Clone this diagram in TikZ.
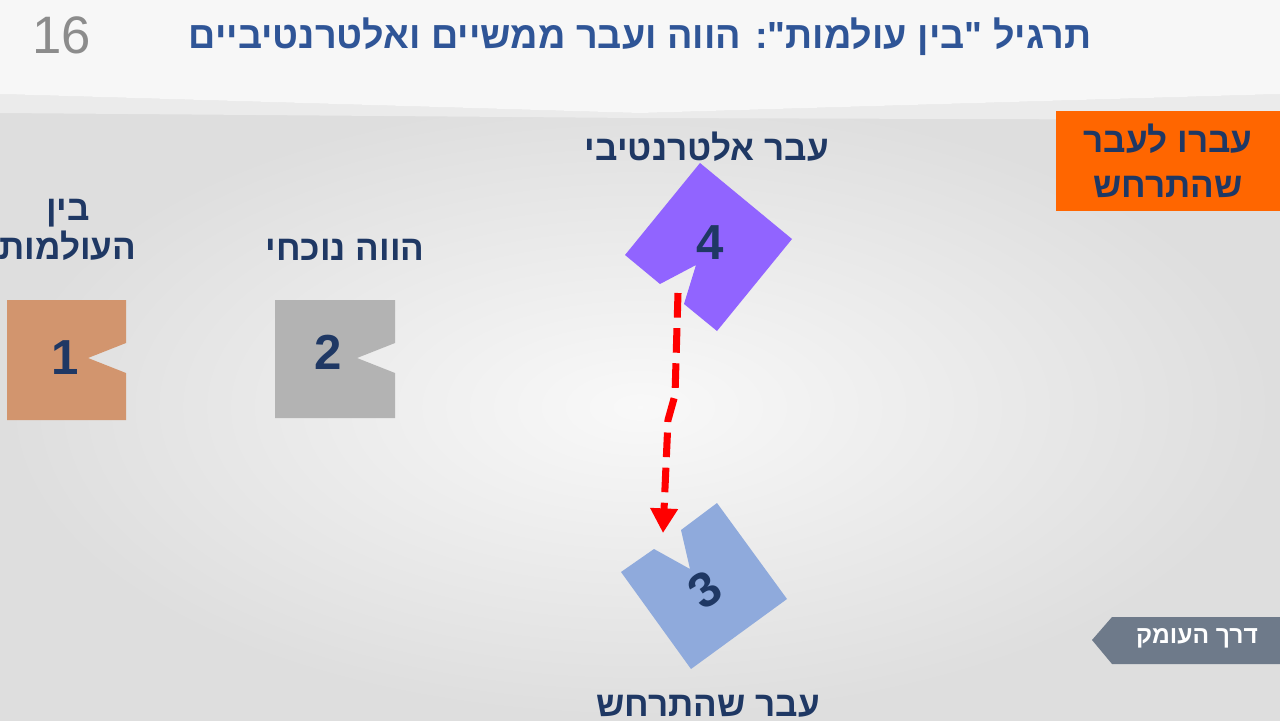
\documentclass[tikz,border=0pt]{standalone}
\usepackage{fontspec}
\setmainfont{Liberation Sans}
\newfontfamily\heb[Script=Hebrew]{Liberation Sans}
\TeXXeTstate=1
\usetikzlibrary{arrows.meta}
\newcommand{\rtl}[1]{\beginR #1\endR}
\definecolor{navy}{HTML}{1F3864}
\definecolor{titleblue}{HTML}{2F5597}
\definecolor{pastorange}{HTML}{FF6600}
\definecolor{worldtan}{HTML}{D2956E}
\definecolor{presgray}{HTML}{B3B3B3}
\definecolor{altpurple}{HTML}{9164FF}
\definecolor{pastblue}{HTML}{8FAADC}
\definecolor{taggray}{HTML}{6E7A8A}
\tikzset{
  lbl/.style={font=\heb\bfseries\fontsize{20}{22.5}\selectfont, text=navy, align=center},
  num/.style={font=\bfseries\fontsize{28}{28}\selectfont, text=navy},
}
\begin{document}
\begin{tikzpicture}[x=0.02cm, y=-0.02cm]
    \useasboundingbox (0,0) rectangle (1280,720);
    % background
    \shade[inner color=gray!5, outer color=gray!26] (0,94) rectangle (1280,720);
    \fill[gray!16] (0,94) -- (640,113) -- (1280,94) -- (1280,120) -- (640,118) -- (0,113) -- cycle;
    \fill[gray!6] (0,0) -- (1280,0) -- (1280,94) -- (640,113) -- (0,94) -- cycle;

    % title
    \node[gray!90, font=\fontsize{30}{30}\selectfont] (page) at (62,35) {16};
    \node[font=\heb\bfseries\fontsize{21.5}{24}\selectfont, text=titleblue] (title) at (640,37)
        {\rtl{תרגיל "בין עולמות": הווה ועבר ממשיים ואלטרנטיביים}};

    % piece 1
    \fill[worldtan] (7,300) -- (126,300) -- (126,343) -- (88,358) -- (126,373) -- (126,420) -- (7,420) -- cycle;
    \node[num] (one) at (65,358) {1};
    \node[lbl] (lblOne) at (68,230) {\rtl{בין}\\\rtl{העולמות}};

    % piece 2
    \fill[presgray] (275,300) -- (395,300) -- (395,343) -- (357,358) -- (395,373) -- (395,418) -- (275,418) -- cycle;
    \node[num] (two) at (328,352) {2};
    \node[lbl] (lblTwo) at (345,250) {\rtl{הווה נוכחי}};

    % piece 4
    \fill[altpurple] (700,163) -- (792,239) -- (717,331) -- (684,304) -- (696,265) -- (660,284) -- (625,255) -- cycle;
    \node[num] (four) at (710,243) {4};
    \node[lbl] (lblFour) at (707,147) {\rtl{עבר אלטרנטיבי}};

    % piece 3
    \fill[pastblue] (717,503) -- (787,599) -- (691,669) -- (621,572) -- (654,549) -- (690,569) -- (681,530) -- cycle;
    \node[num, rotate=35] (three) at (705,590) {3};
    \node[lbl] (lblThree) at (708,706) {\rtl{עבר שהתרחש}};

    % move from alternative past to past
    \coordinate (tail) at (678,293);
    \coordinate (head) at (663,533);
    \draw[red, line width=4pt, dash pattern=on 14pt off 6pt, -{Triangle[width=15pt, length=14pt]}]
        (tail) -- (675,395) -- (668,420) -- (head);

    % task box
    \node[fill=pastorange, minimum width=4.48cm, minimum height=2cm, lbl, font=\heb\bfseries\fontsize{20}{25.5}\selectfont] (task) at (1168,161)
        {\rtl{עברו לעבר}\\\rtl{שהתרחש}};

    % depth tag
    \fill[taggray] (1092,640) -- (1112,617) -- (1280,617) -- (1280,664) -- (1112,664) -- cycle;
    \node[white, font=\heb\bfseries\fontsize{14}{16}\selectfont] (depth) at (1197,638) {\rtl{דרך העומק}};
\end{tikzpicture}
\end{document}
